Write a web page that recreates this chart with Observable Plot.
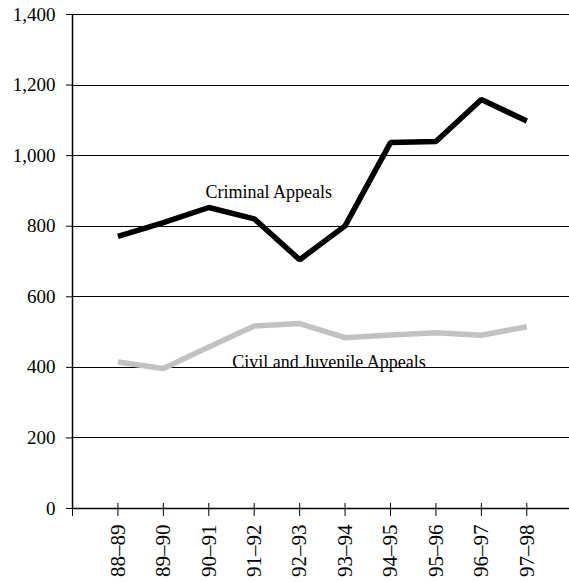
<!DOCTYPE html>
<html>
<head>
<meta charset="utf-8">
<script src="https://cdn.jsdelivr.net/npm/d3@7"></script>
<script src="https://cdn.jsdelivr.net/npm/@observablehq/plot@0.6"></script>
<style>
  html, body { margin: 0; padding: 0; background: #fff; }
  #chart svg { display: block; }
</style>
</head>
<body>
<div id="chart"></div>
<script>
const years = ["88–89","89–90","90–91","91–92","92–93","93–94","94–95","95–96","96–97","97–98"];
const criminal = [771, 810, 853, 821, 705, 801, 1037, 1040, 1159, 1098];
const civil = [415, 397, 458, 517, 524, 484, 492, 498, 491, 515];
const yTicks = [0, 200, 400, 600, 800, 1000, 1200, 1400];
const xTicks = [-1, 0, 1, 2, 3, 4, 5, 6, 7, 8, 9];

const critData = years.map((y, i) => ({i, v: criminal[i]}));
const civData = years.map((y, i) => ({i, v: civil[i]}));
const labels = [
  {i: 2, v: criminal[2], text: "Criminal Appeals"},
  {i: 5, v: civil[5], text: "Civil and Juvenile Appeals"}
];

const chart = Plot.plot({
  width: 569,
  height: 582,
  marginLeft: 72,
  marginRight: 0,
  marginTop: 14,
  marginBottom: 74,
  style: {fontFamily: "'Liberation Serif', 'Times New Roman', serif", fontSize: "19px", color: "#000", background: "#fff"},
  x: {type: "linear", domain: [-1, 9.94]},
  y: {domain: [0, 1400]},
  marks: [
    Plot.ruleY(yTicks.slice(1), {stroke: "#000", strokeWidth: 1, shapeRendering: "crispEdges"}),
    Plot.ruleY([0], {stroke: "#000", strokeWidth: 1.5}),
    Plot.ruleX([-1], {stroke: "#000", strokeWidth: 1.5}),
    Plot.axisY({ticks: yTicks, tickFormat: d3.format(","), tickSize: 6, tickPadding: 11, label: null, fontSize: 19}),
    Plot.axisX({ticks: xTicks, text: null, tickSize: 13, dy: -5, label: null}),
    Plot.axisX({ticks: xTicks.slice(1), tickFormat: i => years[i], tickSize: 0, tickPadding: 16, tickRotate: -90, label: null, fontSize: 21}),
    Plot.line(civData, {x: "i", y: "v", stroke: "#c2c2c2", strokeWidth: 5.5, strokeLinejoin: "miter", strokeLinecap: "butt"}),
    Plot.line(critData, {x: "i", y: "v", stroke: "#000", strokeWidth: 5.5, strokeLinejoin: "miter", strokeLinecap: "butt"}),
    Plot.text(labels.slice(0,1), {x: "i", y: "v", text: "text", dx: 60, dy: -10, lineAnchor: "bottom", fontSize: 18, fill: "#000"}),
    Plot.text(labels.slice(1), {x: "i", y: "v", text: "text", dx: -16, dy: 30, lineAnchor: "bottom", fontSize: 18, fill: "#000"})
  ]
});
document.getElementById("chart").appendChild(chart);
</script>
</body>
</html>
